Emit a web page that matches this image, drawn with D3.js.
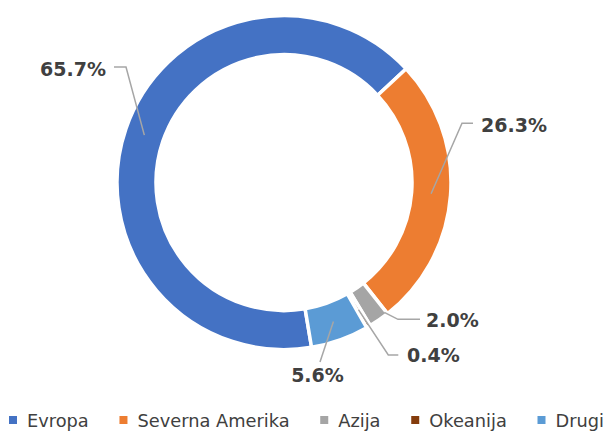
<!DOCTYPE html>
<html>
<head>
<meta charset="utf-8">
<script src="https://cdn.jsdelivr.net/npm/d3@7"></script>
<style>
  body { margin: 0; background: #fff; }
  svg { display: block; }
</style>
</head>
<body>
<div id="chart"></div>
<script>
// data
const categories = ['Evropa', 'Severna Amerika', 'Azija', 'Okeanija', 'Drugi']
const shares = [65.7, 26.3, 2.0, 0.4, 5.6]
const colors = ['#4472C4', '#ED7D31', '#A5A5A5', '#843C0C', '#5B9BD5']

// label placement (leader bends + text position), one per slice
const labelLayout = [
  { r: 147.5, bend: [[126, 67], [114, 67]], text: [106, 76], anchor: 'end' },
  { r: 147.5, bend: [[462, 123.3], [473, 123.3]], text: [481, 131.5], anchor: 'start' },
  { r: 164, da: -3, bend: [[398, 319.3], [420, 319.3]], text: [426, 326.5], anchor: 'start' },
  { r: 147.5, bend: [[388.3, 355], [398.3, 355]], text: [407, 361.5], anchor: 'start' },
  { r: 147.5, bend: [[320, 362]], text: [317.5, 381.5], anchor: 'middle' }
]

const W = 608, H = 431
const cx = 284, cy = 182.6
const outerR = 167, innerR = 128
const startDeg = 170.5
const rad = Math.PI / 180

const svg = d3.select('#chart').append('svg')
  .attr('width', W).attr('height', H)

const pie = d3.pie()
  .sort(null)
  .startAngle(startDeg * rad)
  .endAngle((startDeg + 360) * rad)

const arc = d3.arc().innerRadius(innerR).outerRadius(outerR)

const arcs = pie(shares)

const g = svg.append('g').attr('transform', `translate(${cx},${cy})`)

g.selectAll('path.slice')
  .data(arcs)
  .join('path')
  .attr('class', 'slice')
  .attr('d', arc)
  .attr('fill', (d, i) => colors[i])
  .attr('stroke', '#fff')
  .attr('stroke-width', 3.5)
  .attr('stroke-linejoin', 'miter')

// leader lines and labels
const polar = (a, r) => [cx + r * Math.sin(a), cy - r * Math.cos(a)]

arcs.forEach((d, i) => {
  const L = labelLayout[i]
  const mid = (d.startAngle + d.endAngle) / 2 + (L.da || 0) * rad
  const pts = [polar(mid, L.r)].concat(L.bend)
  svg.append('path')
    .attr('d', d3.line()(pts))
    .attr('fill', 'none')
    .attr('stroke', '#A6A6A6')
    .attr('stroke-width', 1.5)
  svg.append('text')
    .attr('x', L.text[0])
    .attr('y', L.text[1])
    .attr('text-anchor', L.anchor)
    .attr('font-family', 'DejaVu Sans, sans-serif')
    .attr('font-weight', 'bold')
    .attr('font-size', 19)
    .attr('fill', '#404040')
    .text(shares[i].toFixed(1) + '%')
})

// legend
const legend = svg.append('g')
const items = legend.selectAll('g.item')
  .data(categories)
  .join('g')
  .attr('class', 'item')

items.append('rect')
  .attr('width', 8).attr('height', 8)
  .attr('y', 416)
  .attr('fill', (d, i) => colors[i])

items.append('text')
  .attr('x', 18)
  .attr('y', 427)
  .attr('font-family', 'DejaVu Sans, sans-serif')
  .attr('font-size', 17.8)
  .attr('fill', '#404040')
  .text(d => d)

// place items side by side across the legend band
const legendLeft = 9, legendRight = 604
let widths = []
items.each(function () {
  widths.push(18 + d3.select(this).select('text').node().getComputedTextLength())
})
const gap = (legendRight - legendLeft - d3.sum(widths)) / (widths.length - 1)
let x = legendLeft
items.each(function (d, i) {
  d3.select(this).attr('transform', `translate(${x},0)`)
  x += widths[i] + gap
})
</script>
</body>
</html>
